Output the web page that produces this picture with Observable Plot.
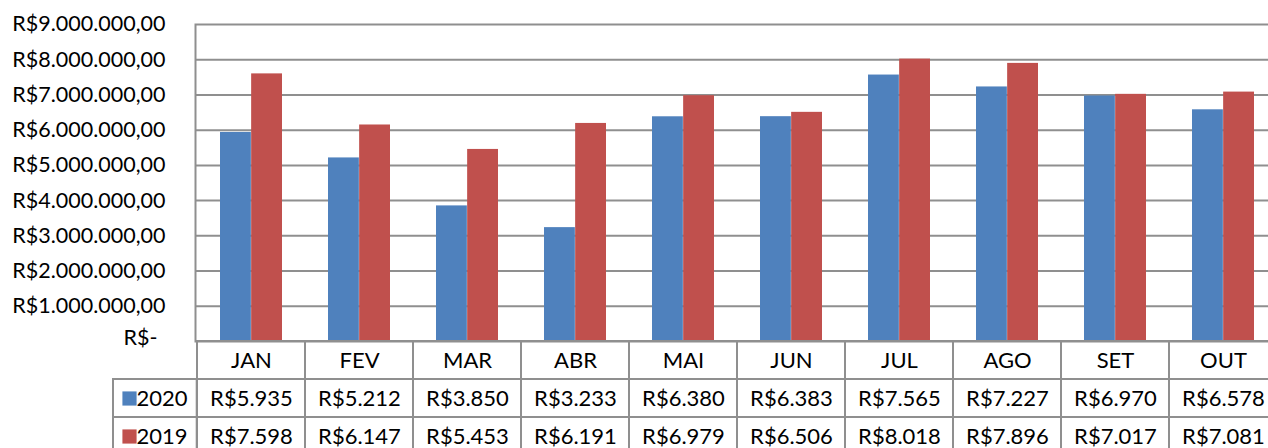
<!DOCTYPE html>
<html><head><meta charset="utf-8">
<script src="https://cdn.jsdelivr.net/npm/d3@7"></script>
<script src="https://cdn.jsdelivr.net/npm/@observablehq/plot@0.6"></script>
<style>
html,body{margin:0;padding:0;background:#fff;overflow:hidden;}
#chart{width:1268px;height:448px;overflow:hidden;}
#chart svg{display:block;}
</style></head><body><div id="chart"></div>
<script>
// Data (values in thousands of R$)
const months = ["JAN","FEV","MAR","ABR","MAI","JUN","JUL","AGO","SET","OUT"];
const series = ["2020","2019"];
const values2020 = [5935,5212,3850,3233,6380,6383,7565,7227,6970,6578];
const values2019 = [7598,6147,5453,6191,6979,6506,8018,7896,7017,7081];
const yTicks = [0,1000,2000,3000,4000,5000,6000,7000,8000,9000];
const colors = ["#4F81BD","#C0504D"];

const W = 1290, left = 195, right = 12;
const font = "Lato, 'Open Sans', sans-serif";
const grid = "#8f8f8f";
const axisFont = 21.5, tableFont = 22;
const brl = d3.formatLocale({decimal:",", thousands:".", grouping:[3], currency:["R$",""]});
const fmtAxis = brl.format("$,.2f");
const fmtCell = brl.format(",d");
const rows2020 = months.map((m,i)=>({month:m, value:values2020[i]}));
const rows2019 = months.map((m,i)=>({month:m, value:values2019[i]}));
const bw = (W-left-right)/months.length;
const barOuter = 23, barHalf = bw/2;
const baseStyle = {fontFamily:font, fontSize:"21px", color:"#000", background:"transparent", maxWidth:"none", overflow:"visible"};

const p1 = Plot.plot({
  width: W, height: 341, marginLeft: left, marginRight: right, marginTop: 24, marginBottom: 0,
  style: baseStyle,
  x: {type:"band", domain: months, padding: 0, axis: null},
  y: {domain: [0, 9000], axis: null},
  marks: [
    Plot.ruleY(yTicks.slice(1,-1), {stroke: grid, strokeWidth: 2}),
    Plot.barY(rows2020, {x:"month", y:"value", fill: colors[0], insetLeft: barOuter, insetRight: barHalf}),
    Plot.barY(rows2019, {x:"month", y:"value", fill: colors[1], insetLeft: barHalf, insetRight: barOuter}),
    Plot.frame({stroke: grid, strokeWidth: 2}),
    Plot.axisY(yTicks.slice(1), {tickSize: 0, tickPadding: 30, tickFormat: d => fmtAxis(d*1000), fontSize: axisFont, fill: "#000", label: null}),
    Plot.axisY([0], {tickSize: 0, tickPadding: 38, tickFormat: () => "R$-", fontSize: axisFont, fill: "#000", dy: -3, label: null})
  ]
});

const tableRows = ["mes", ...series];
const cells = [];
months.forEach(m => tableRows.forEach(r => cells.push({month:m, row:r})));
const rowH = 38;
const p2 = Plot.plot({
  width: W, height: 107, marginLeft: left, marginRight: right, marginTop: 0, marginBottom: 0,
  style: baseStyle,
  x: {type:"band", domain: months, padding: 0, axis: null},
  y: {type:"band", domain: tableRows, padding: 0, range: [0, rowH*3], axis: null},
  marks: [
    Plot.cell(cells, {x:"month", y:"row", fill:"none", stroke: grid, strokeWidth: 2}),
    Plot.cell(series, {x: () => months[0], y: d => d, dx: -bw, insetLeft: bw-84, fill:"none", stroke: grid, strokeWidth: 2}),
    Plot.text(months, {x: d => d, y: () => "mes", text: d => d, fontSize: tableFont, fill: "#000"}),
    Plot.text(rows2020, {x:"month", y: () => series[0], text: d => "R$" + fmtCell(d.value), fontSize: tableFont, fill: "#000"}),
    Plot.text(rows2019, {x:"month", y: () => series[1], text: d => "R$" + fmtCell(d.value), fontSize: tableFont, fill: "#000"}),
    Plot.text(series, {x: () => months[0], y: d => d, text: d => d, textAnchor: "end", dx: -64, fontSize: tableFont, fill: "#000"}),
    Plot.dot([series[0]], {x: () => months[0], y: d => d, symbol: "square", r: 8, fill: colors[0], dx: -122}),
    Plot.dot([series[1]], {x: () => months[0], y: d => d, symbol: "square", r: 8, fill: colors[1], dx: -122})
  ]
});

const el = document.getElementById("chart");
el.appendChild(p1);
el.appendChild(p2);
</script></body></html>
